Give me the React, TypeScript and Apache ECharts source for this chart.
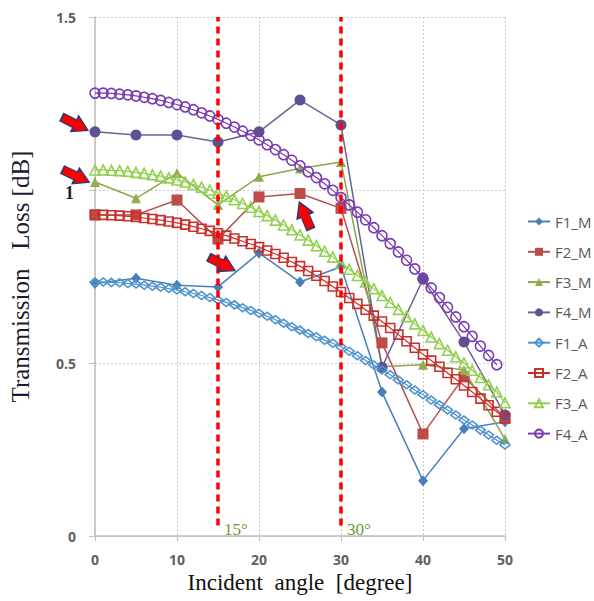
import React, { useEffect, useRef } from 'react';
import * as echarts from 'echarts';

// Measured angles (degree)
const M_ANGLES = [0, 5, 10, 15, 20, 25, 30, 35, 40, 45, 50];

// Measured transmission loss [dB]
const F1_M = [0.73, 0.745, 0.725, 0.72, 0.818, 0.734, 0.778, 0.416, 0.16, 0.31, 0.33];
const F2_M = [0.928, 0.928, 0.971, 0.858, 0.98, 0.99, 0.947, 0.558, 0.295, 0.46, 0.341];
const F3_M = [1.023, 0.976, 1.049, 0.957, 1.038, 1.062, 1.081, 0.49, 0.495, 0.48, 0.28];
const F4_M = [1.168, 1.159, 1.159, 1.139, 1.168, 1.26, 1.188, 0.488, 0.742, 0.561, 0.35];

// Analytic transmission loss [dB], one value per degree starting at 0
const F1_A = [
  0.734, 0.734, 0.733, 0.732, 0.730, 0.728, 0.725, 0.722, 0.719, 0.715,
  0.711, 0.706, 0.701, 0.695, 0.689, 0.682, 0.675, 0.668, 0.660, 0.652,
  0.644, 0.635, 0.625, 0.615, 0.605, 0.595, 0.585, 0.576, 0.566, 0.557,
  0.547, 0.534, 0.521, 0.507, 0.494, 0.480, 0.466, 0.451, 0.437, 0.422,
  0.408, 0.393, 0.379, 0.364, 0.350, 0.335, 0.321, 0.306, 0.292, 0.277,
  0.263,
];
const F2_A = [
  0.928, 0.928, 0.927, 0.926, 0.924, 0.922, 0.919, 0.916, 0.913, 0.909,
  0.905, 0.900, 0.894, 0.888, 0.882, 0.875, 0.868, 0.860, 0.852, 0.844,
  0.835, 0.825, 0.815, 0.804, 0.792, 0.780, 0.766, 0.752, 0.737, 0.721,
  0.705, 0.688, 0.671, 0.654, 0.637, 0.620, 0.601, 0.582, 0.563, 0.544,
  0.525, 0.507, 0.489, 0.471, 0.453, 0.435, 0.416, 0.397, 0.378, 0.359,
  0.340,
];
const F3_A = [
  1.058, 1.058, 1.057, 1.056, 1.054, 1.051, 1.048, 1.044, 1.040, 1.035,
  1.029, 1.023, 1.016, 1.008, 1.000, 0.991, 0.982, 0.972, 0.961, 0.950,
  0.938, 0.926, 0.913, 0.899, 0.885, 0.870, 0.855, 0.839, 0.823, 0.806,
  0.789, 0.771, 0.753, 0.734, 0.715, 0.695, 0.675, 0.655, 0.634, 0.613,
  0.594, 0.575, 0.556, 0.537, 0.518, 0.500, 0.479, 0.458, 0.437, 0.416,
  0.385,
];
const F4_A = [
  1.280, 1.280, 1.279, 1.277, 1.275, 1.272, 1.268, 1.264, 1.259, 1.253,
  1.247, 1.240, 1.232, 1.223, 1.214, 1.204, 1.193, 1.182, 1.170, 1.158,
  1.145, 1.131, 1.117, 1.102, 1.086, 1.070, 1.053, 1.036, 1.018, 0.999,
  0.978, 0.957, 0.936, 0.914, 0.891, 0.868, 0.845, 0.821, 0.797, 0.772,
  0.745, 0.717, 0.689, 0.661, 0.633, 0.605, 0.577, 0.549, 0.522, 0.495,
];

const LEGEND = ['F1_M', 'F2_M', 'F3_M', 'F4_M', 'F1_A', 'F2_A', 'F3_A', 'F4_A'];
const REF_ANGLES = [15, 30];
const REF_LABELS = ['15°', '30°'];

const ARROW = 'path://M0,4L14,4L14,0L28,8L14,16L14,12L0,12Z';
const SERIF = "'Liberation Serif', 'Times New Roman', serif";
const SANS = "'Open Sans', 'Noto Sans', sans-serif";

function mSeries(name: string, values: number[], color: string, lineColor: string, symbol: string, size: number | number[]) {
  return {
    type: 'line',
    name,
    data: M_ANGLES.map((a, i) => [a, values[i]]),
    symbol,
    symbolSize: size,
    itemStyle: { color },
    lineStyle: { color: lineColor, width: 1.5 },
    emphasis: { disabled: true },
    z: 2,
  };
}

function aSeries(name: string, values: number[], color: string, symbol: string, size: number | number[], extra: any = {}) {
  return {
    type: 'line',
    name,
    data: values.map((v, i) => [i, v]),
    symbol,
    symbolSize: size,
    showAllSymbol: true,
    itemStyle: { color: 'rgba(255,255,255,0)', borderColor: color, borderWidth: 1.6 },
    lineStyle: { color, width: 1.2 },
    emphasis: { disabled: true },
    z: 3,
    ...extra,
  };
}

export default function App() {
  const ref = useRef<HTMLDivElement>(null);
  useEffect(() => {
    const chart = echarts.init(ref.current!, null, { renderer: 'svg' });
    const arrowStyle = { color: '#ff0000', borderColor: '#2c3b6e', borderWidth: 1.5 };
    const arrow = (coord: number[], rot: number, off: number[]) => ({
      coord,
      symbol: ARROW,
      symbolSize: [29, 17],
      symbolRotate: rot,
      symbolOffset: off,
      itemStyle: arrowStyle,
      label: { show: false },
    });
    const option: any = {
      animation: false,
      backgroundColor: '#ffffff',
      grid: { left: 95, right: 89, top: 17, bottom: 65 },
      legend: {
        data: LEGEND,
        orient: 'vertical',
        left: 527,
        top: 214,
        padding: 0,
        itemWidth: 22,
        itemHeight: 10,
        itemGap: 15.3,
        textStyle: { fontSize: 15, color: '#595959', fontFamily: SANS },
      },
      xAxis: {
        type: 'value',
        min: 0,
        max: 50,
        interval: 10,
        name: 'Incident  angle  [degree]',
        nameLocation: 'middle',
        nameGap: 33,
        nameTextStyle: { fontFamily: SERIF, fontSize: 23, color: '#111' },
        axisLine: { show: true, lineStyle: { color: '#bdbdbd', width: 1.5 } },
        axisTick: { show: true, length: 5, lineStyle: { color: '#bdbdbd' } },
        axisLabel: { margin: 16, fontSize: 14, fontWeight: 'bold', color: '#5f5f5f', fontFamily: SANS },
        splitLine: { show: true, lineStyle: { color: '#c8c8c8', type: [2, 2], width: 1 } },
      },
      yAxis: {
        type: 'value',
        min: 0,
        max: 1.5,
        interval: 0.5,
        name: 'Transmission   Loss [dB]',
        nameLocation: 'middle',
        nameGap: 62,
        nameTextStyle: { fontFamily: SERIF, fontSize: 25, color: '#1a1a33' },
        axisLine: { show: true, lineStyle: { color: '#bdbdbd', width: 1.5 } },
        axisTick: { show: true, length: 6, lineStyle: { color: '#bdbdbd' } },
        axisLabel: {
          margin: 19,
          fontSize: 14,
          fontWeight: 'bold',
          color: '#5f5f5f',
          fontFamily: SANS,
          formatter: (v: number) => (v === 1 ? '{one|1}' : String(v)),
          rich: { one: { fontFamily: SERIF, fontSize: 18, fontWeight: 'bold', color: '#222', padding: [6, 2, 0, 0] } },
        },
        splitLine: { show: true, lineStyle: { color: '#c8c8c8', type: [2, 2], width: 1 } },
      },
      series: [
        mSeries('F1_M', F1_M, '#4a7ebb', '#4a7ebb', 'diamond', [10, 11]),
        mSeries('F2_M', F2_M, '#be4b48', '#b5504d', 'rect', 11),
        mSeries('F3_M', F3_M, '#8fae4e', '#8aa64a', 'triangle', 10),
        mSeries('F4_M', F4_M, '#5f4f94', '#6b6294', 'circle', 11),
        aSeries('F1_A', F1_A, '#4f94cd', 'diamond', [10, 8]),
        aSeries('F2_A', F2_A, '#c9302c', 'rect', 9),
        aSeries('F3_A', F3_A, '#92d050', 'triangle', 10),
        aSeries('F4_A', F4_A, '#7a3cb0', 'circle', 10, {
          markLine: {
            silent: true,
            symbol: 'none',
            label: { show: false },
            lineStyle: { color: '#ff0000', width: 3.5, type: [7, 5], opacity: 1 },
            emphasis: { disabled: true },
            data: REF_ANGLES.map((a) => [{ coord: [a, 0.03] }, { coord: [a, 1.5] }]),
          },
          markPoint: {
            silent: true,
            data: [
              ...REF_ANGLES.map((a, i) => ({
                coord: [a, 0],
                symbol: 'rect',
                symbolSize: 1,
                itemStyle: { color: 'rgba(0,0,0,0)' },
                label: {
                  show: true,
                  position: 'inside',
                  offset: [18, -7],
                  formatter: REF_LABELS[i],
                  fontFamily: SERIF,
                  fontSize: 17,
                  color: '#6a9a32',
                },
              })),
              arrow([M_ANGLES[0], F4_M[0]], -27, [-20, -8]),
              arrow([M_ANGLES[0], F3_M[0]], -25, [-19, -6]),
              arrow([M_ANGLES[4], F1_M[4]], -27, [-37, 11]),
              arrow([M_ANGLES[5], F2_M[5]], 113, [5, 22]),
            ],
          },
        }),
      ],
    };
    chart.setOption(option);
    return () => chart.dispose();
  }, []);
  return (
    <div
      ref={ref}
      style={{ position: 'fixed', left: 0, top: 0, width: 594, height: 601, background: '#fff' }}
    />
  );
}
